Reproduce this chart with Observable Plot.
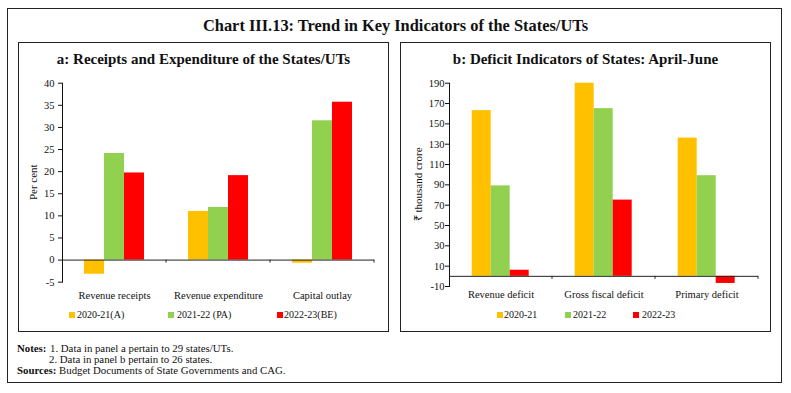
<!DOCTYPE html>
<html><head><meta charset="utf-8">
<script src="https://cdn.jsdelivr.net/npm/d3@7"></script>
<script src="https://cdn.jsdelivr.net/npm/@observablehq/plot@0.6"></script>
<style>
body{margin:0;background:#fff;font-family:"Liberation Serif",serif;color:#111}
#wrap{position:relative;width:791px;height:393px;overflow:hidden}
.box{position:absolute;border:1.4px solid #222;box-sizing:border-box}
.abs{position:absolute;white-space:nowrap}
.ttl{font-weight:bold;text-align:center}
.sw{position:absolute;width:6px;height:6px}
.lg{position:absolute;font-size:10px;line-height:10px;white-space:nowrap}
.note{position:absolute;font-size:10.8px;line-height:10.8px;white-space:nowrap}
.panel{position:absolute}
.panel svg [aria-label="fx-axis"] text{font-size:12.5px}
</style></head>
<body><div id="wrap">
<div class="box" style="left:7px;top:8px;width:775px;height:375px"></div>
<div class="box" style="left:18px;top:42px;width:371px;height:290px"></div>
<div class="box" style="left:400px;top:42px;width:371px;height:290px"></div>
<div class="abs ttl" style="left:0;top:17.8px;width:791px;font-size:16.4px;line-height:16.4px">Chart III.13: Trend in Key Indicators of the States/UTs</div>
<div class="abs ttl" style="left:18px;top:51.5px;width:371px;font-size:15px;line-height:15px">a: Receipts and Expenditure of the States/UTs</div>
<div class="abs ttl" style="left:400px;top:51.5px;width:371px;font-size:15px;line-height:15px">b: Deficit Indicators of States: April-June</div>
<div id="pa" class="panel" style="left:18px;top:70px"></div>
<div id="pb" class="panel" style="left:400px;top:70px"></div>
<div id="legends"></div>
<div class="note" style="left:17px;top:343.3px"><b>Notes:</b></div>
<div class="note" style="left:50px;top:343.3px">1. Data in panel a pertain to 29 states/UTs.</div>
<div class="note" style="left:49px;top:354.3px">2. Data in panel b pertain to 26 states.</div>
<div class="note" style="left:17px;top:365px"><b>Sources:</b> Budget Documents of State Governments and CAG.</div>
</div>
<script>
// Panel a data
const categoriesA = ["Revenue receipts", "Revenue expenditure", "Capital outlay"];
const seriesA = ["2020-21(A)", "2021-22 (PA)", "2022-23(BE)"];
const valuesA2020 = [-3.2, 11.0, -0.7];
const valuesA2021 = [24.1, 11.9, 31.5];
const valuesA2022 = [19.7, 19.1, 35.7];
const yTicksA = [-5, 0, 5, 10, 15, 20, 25, 30, 35, 40];

// Panel b data
const categoriesB = ["Revenue deficit", "Gross fiscal deficit", "Primary deficit"];
const seriesB = ["2020-21", "2021-22", "2022-23"];
const valuesB2020 = [163, 190, 136];
const valuesB2021 = [89, 165, 99];
const valuesB2022 = [6, 75, -7];
const yTicksB = [-10, 10, 30, 50, 70, 90, 110, 130, 150, 170, 190];

const colors = ["#FFC000", "#92D050", "#FF0000"];

function rowsOf(categories, series, valueLists) {
  return categories.flatMap((c, i) => series.map((s, j) => ({category: c, series: s, value: valueLists[j][i]})));
}

function panel(el, cfg) {
  const rows = rowsOf(cfg.categories, cfg.series, cfg.values);
  const chart = Plot.plot({
    width: 371, height: 240,
    marginLeft: cfg.ml, marginRight: cfg.mr, marginTop: cfg.mt, marginBottom: cfg.mb,
    style: {fontFamily: "Liberation Serif", fontSize: "10.5px", color: "#111", background: "transparent"},
    facet: {data: rows, x: "category"},
    fx: {domain: cfg.categories, padding: 0, axis: "bottom", tickSize: 0, tickPadding: cfg.fxPad, label: null},
    x: {domain: cfg.series, axis: null, paddingInner: 0, paddingOuter: 1.1},
    y: {domain: cfg.yDomain, ticks: cfg.yTicks, tickFormat: d => String(d), tickSize: 4, tickPadding: cfg.tp,
        line: true, label: null},
    color: {domain: cfg.series, range: colors},
    marks: [
      Plot.barY(rows, {x: "series", y: "value", fill: "series"}),
      Plot.ruleY([0], {stroke: "#222", strokeWidth: 1})
    ]
  });
  el.appendChild(chart);
  const svg = d3.select(chart);
  try {
    const fx = chart.scale("fx"), y = chart.scale("y");
    const y0 = y.apply(0);
    cfg.categories.forEach(c => {
      const xe = fx.apply(c) + fx.bandwidth;
      svg.append("line").attr("x1", xe).attr("x2", xe).attr("y1", y0).attr("y2", y0 + 3)
        .attr("stroke", "#222").attr("stroke-width", 1);
    });
    const ymid = (y.range[0] + y.range[1]) / 2;
    svg.append("text")
      .attr("transform", `translate(${cfg.labelX},${ymid}) rotate(-90)`)
      .attr("text-anchor", "middle")
      .attr("fill", "#111")
      .style("font-size", "11px")
      .text(cfg.label);
  } catch (e) {}
  return chart;
}

panel(document.getElementById("pa"), {
  categories: categoriesA, series: seriesA, values: [valuesA2020, valuesA2021, valuesA2022],
  yDomain: [-5, 40], yTicks: yTicksA, label: "Per cent",
  ml: 43, mr: 14, mt: 12.7, mb: 28.3, fxPad: 9, tp: 4, labelX: 18.5
});
panel(document.getElementById("pb"), {
  categories: categoriesB, series: seriesB, values: [valuesB2020, valuesB2021, valuesB2022],
  yDomain: [-10, 190], yTicks: yTicksB, label: "₹ thousand crore",
  ml: 49.3, mr: 12.7, mt: 12.7, mb: 24, fxPad: 4.5, tp: 1, labelX: 22
});

// legends
const legendPos = [
  {series: seriesA, sw: [68.5, 168, 277], tx: [77, 177, 284]},
  {series: seriesB, sw: [497, 565, 633], tx: [504, 573, 642]}
];
const lg = document.getElementById("legends");
legendPos.forEach(L => {
  L.series.forEach((s, i) => {
    const sw = document.createElement("div");
    sw.className = "sw";
    sw.style.left = L.sw[i] + "px"; sw.style.top = "312px"; sw.style.background = colors[i];
    lg.appendChild(sw);
    const t = document.createElement("div");
    t.className = "lg";
    t.style.left = L.tx[i] + "px"; t.style.top = "310px";
    t.textContent = s;
    lg.appendChild(t);
  });
});
</script>
</body></html>
